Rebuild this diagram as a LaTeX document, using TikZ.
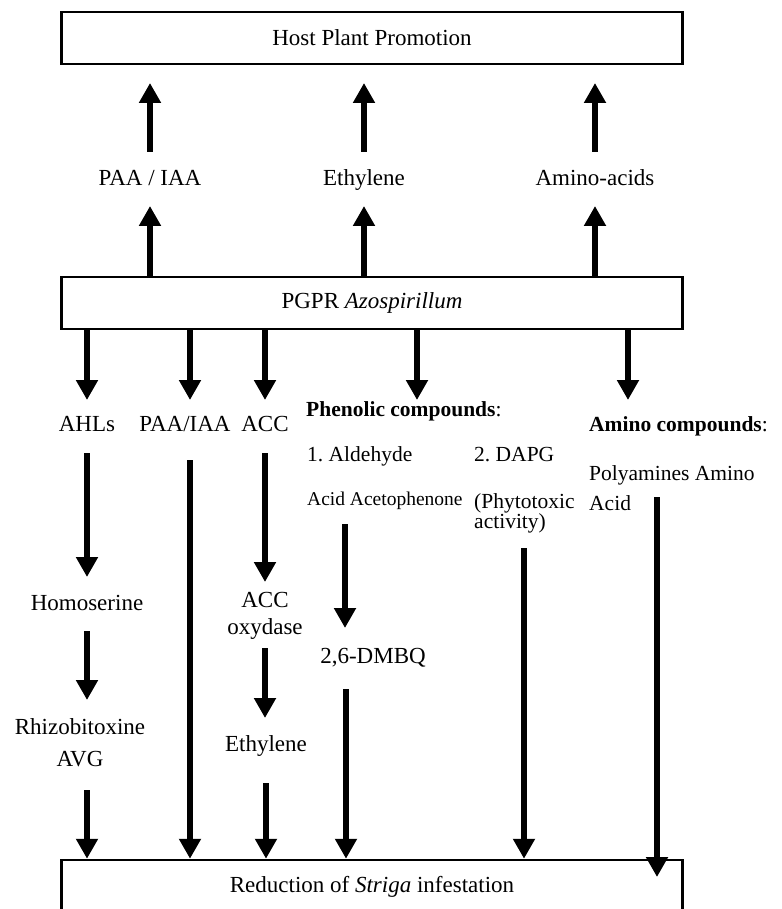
\documentclass[tikz,border=0pt]{standalone}
\usepackage{fontspec}
\setmainfont{Liberation Serif}
\usetikzlibrary{arrows.meta}
\begin{document}
\begin{tikzpicture}[x=1pt,y=-1pt,
  box/.style={draw, line width=2.5pt, minimum width=621pt, minimum height=52pt, inner sep=0pt, font=\fontsize{23}{26}\selectfont},
  lbl/.style={inner sep=0pt, text height=1.5ex, text depth=0pt, font=\fontsize{23}{26}\selectfont},
  sm/.style={lbl, font=\fontsize{21.5}{24}\selectfont},
  xs/.style={lbl, font=\fontsize{19.5}{22}\selectfont},
  bd/.style={lbl, font=\bfseries\fontsize{21.5}{24}\selectfont},
  arr/.style={line width=6.5pt, draw=black, -{Triangle[width=21pt,length=20pt]}}]
\useasboundingbox (0,0) rectangle (781,909);
\clip (0,0) rectangle (781,909);

% boxes
\node[box] (host) at (372,38) {Host Plant Promotion};
\node[box] (pgpr) at (372,303) {PGPR \textit{Azospirillum}};
\node[box, minimum height=54pt] (red) at (372,887) {Reduction of \textit{Striga} infestation};

% upper labels
\node[lbl] (paa1) at (150,182) {PAA / IAA};
\node[lbl] (eth1) at (364,182) {Ethylene};
\node[lbl] (ami1) at (595,182) {Amino-acids};

\foreach \n in {paa1,eth1,ami1}{
  \draw[arr] (\n |- pgpr.north) -- (\n |- 0,206);
  \draw[arr] (\n |- 0,152) -- (\n |- 0,83);
}

% second row labels
\node[lbl] (ahls) at (87,428) {AHLs};
\node[lbl] (paa2) at (185,428) {PAA/IAA};
\node[lbl] (acc) at (265,428) {ACC};
\node[bd, anchor=west] (phen) at (306,413) {Phenolic compounds\textmd{:}};
\node[sm, anchor=west] (ald) at (307,458) {1.\ Aldehyde};
\node[sm, anchor=west] (dapg) at (474,458) {2.\ DAPG};
\node[xs, anchor=west] (acid) at (307,502) {Acid Acetophenone};
\node[anchor=north west, align=left, inner sep=0pt, font=\fontsize{21.5}{19.5}\selectfont] (phyto) at (474,493) {(Phytotoxic\\activity)};
\node[bd, anchor=west] (amc) at (589,428) {Amino compounds\textmd{:}};
\node[sm, anchor=west] (poly) at (589,477) {Polyamines Amino};
\node[sm, anchor=west] (acid2) at (589,507) {Acid};

% down arrows from PGPR
\draw[arr] (ahls |- pgpr.south) -- (ahls |- 0,400);
\draw[arr] (190,0 |- pgpr.south) -- (190,400);
\draw[arr] (acc |- pgpr.south) -- (acc |- 0,400);
\draw[arr] (417,0 |- pgpr.south) -- (417,400);
\draw[arr] (628,0 |- pgpr.south) -- (628,400);

% lower labels
\node[lbl] (homo) at (87,607) {Homoserine};
\node[lbl] (rhizo) at (80,731) {Rhizobitoxine};
\node[lbl] (avg) at (80,763) {AVG};
\node[lbl] (acc2) at (265,604) {ACC};
\node[lbl] (oxy) at (265,631) {oxydase};
\node[lbl] (eth2) at (266,748) {Ethylene};
\node[lbl] (dmbq) at (373,660) {2,6-DMBQ};

% chains
\draw[arr] (ahls |- 0,453) -- (ahls |- 0,577);
\draw[arr] (homo |- 0,631) -- (homo |- 0,700);
\draw[arr] (87,790) -- (87,0 |- red.north);
\draw[arr] (190,460) -- (190,0 |- red.north);
\draw[arr] (acc |- 0,453) -- (acc |- 0,582);
\draw[arr] (265,648) -- (265,718);
\draw[arr] (266,783) -- (266,0 |- red.north);
\draw[arr] (345,524) -- (345,628);
\draw[arr] (346,689) -- (346,0 |- red.north);
\draw[arr] (524,548) -- (524,0 |- red.north);
\draw[arr] (657,497) -- (657,877);
\end{tikzpicture}
\end{document}
